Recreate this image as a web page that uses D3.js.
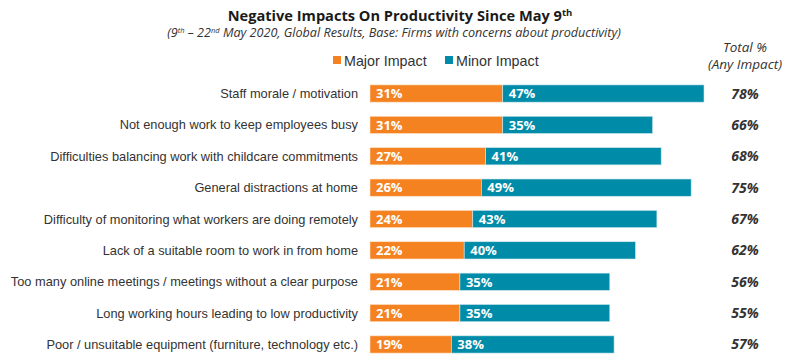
<!DOCTYPE html>
<html>
<head>
<meta charset="utf-8">
<script src="https://cdn.jsdelivr.net/npm/d3@7"></script>
<style>
  body { margin: 0; background: #fff; }
</style>
</head>
<body>
<script>
const categories = [
  "Staff morale / motivation",
  "Not enough work to keep employees busy",
  "Difficulties balancing work with childcare commitments",
  "General distractions at home",
  "Difficulty of monitoring what workers are doing remotely",
  "Lack of a suitable room to work in from home",
  "Too many online meetings / meetings without a clear purpose",
  "Long working hours leading to low productivity",
  "Poor / unsuitable equipment (furniture, technology etc.)"
];
const majorImpact = [31, 31, 27, 26, 24, 22, 21, 21, 19];
const minorImpact = [47, 35, 41, 49, 43, 40, 35, 35, 38];
const totalAny = [78, 66, 68, 75, 67, 62, 56, 55, 57];
const seriesNames = ["Major Impact", "Minor Impact"];

const width = 800, height = 362;
const colors = { major: "#F58220", minor: "#008CA8" };

const svg = d3.select("body").append("svg")
  .attr("width", width)
  .attr("height", height);

// title
const title = svg.append("text")
  .attr("x", 400).attr("y", 21)
  .attr("text-anchor", "middle")
  .style("font-family", "'Open Sans'")
  .style("font-weight", "bold")
  .style("font-size", "14.6px")
  .attr("fill", "#1a1a1a");
title.append("tspan").text("Negative Impacts On Productivity Since May 9");
title.append("tspan").text("th").attr("font-size", "9.5px").attr("dy", -5);

const sub = svg.append("text")
  .attr("x", 394).attr("y", 37)
  .attr("text-anchor", "middle")
  .style("font-family", "'Open Sans'")
  .style("font-style", "italic")
  .style("font-size", "12.6px")
  .attr("fill", "#333");
sub.append("tspan").text("(9");
sub.append("tspan").text("th").attr("font-size", "7.5px").attr("dy", -4);
sub.append("tspan").text(" – 22").attr("dy", 4);
sub.append("tspan").text("nd").attr("font-size", "7.5px").attr("dy", -4);
sub.append("tspan").text(" May 2020, Global Results, Base: Firms with concerns about productivity)").attr("dy", 4);

// legend
const legend = svg.append("g").selectAll("g")
  .data(seriesNames)
  .enter().append("g")
  .attr("transform", (d, i) => `translate(${[333, 445][i]},0)`);
legend.append("rect")
  .attr("y", 56).attr("width", 8).attr("height", 8)
  .attr("fill", (d, i) => i ? colors.minor : colors.major);
legend.append("text")
  .attr("x", 11).attr("y", 65.5)
  .style("font-family", "'Liberation Sans', Arial")
  .style("font-size", "14.3px")
  .attr("fill", "#333")
  .text(d => d);

// total header
svg.append("text")
  .attr("x", 745).attr("y", 52)
  .attr("text-anchor", "middle")
  .style("font-family", "'Open Sans'").style("font-style", "italic").style("font-size", "13.5px")
  .attr("fill", "#333").text("Total %");
svg.append("text")
  .attr("x", 745).attr("y", 69)
  .attr("text-anchor", "middle")
  .style("font-family", "'Open Sans'").style("font-style", "italic").style("font-size", "13.5px")
  .attr("fill", "#333").text("(Any Impact)");

const x = d3.scaleLinear().domain([0, 78]).range([370, 704]);
const y = d3.scaleBand().domain(categories).range([78, 360]).paddingInner(0.45).paddingOuter(0.22);

const rows = svg.append("g").selectAll("g")
  .data(categories.map((c, i) => ({ c, maj: majorImpact[i], min: minorImpact[i], tot: totalAny[i] })))
  .enter().append("g");

rows.append("text")
  .attr("x", 358)
  .attr("y", d => y(d.c) + y.bandwidth() / 2 + 4.5)
  .attr("text-anchor", "end")
  .style("font-family", "'Liberation Sans', Arial")
  .style("font-size", "12.8px")
  .attr("fill", "#333")
  .text(d => d.c);

rows.append("rect")
  .attr("x", x(0))
  .attr("y", d => y(d.c))
  .attr("width", d => x(d.maj) - x(0))
  .attr("height", y.bandwidth())
  .attr("fill", colors.major)
  .attr("stroke", "#fde3cc").attr("stroke-width", 0.6);

rows.append("rect")
  .attr("x", d => x(d.maj))
  .attr("y", d => y(d.c))
  .attr("width", d => x(d.maj + d.min) - x(d.maj))
  .attr("height", y.bandwidth())
  .attr("fill", colors.minor)
  .attr("stroke", "#cfe8ee").attr("stroke-width", 0.6);

const barLabel = (sel, xf, tf) => sel.append("text")
  .attr("x", xf)
  .attr("y", d => y(d.c) + y.bandwidth() / 2 + 4.8)
  .style("font-family", "'Open Sans'")
  .style("font-weight", "bold")
  .style("font-size", "13px")
  .attr("fill", "#fff")
  .text(tf);

barLabel(rows, x(0) + 6, d => d.maj + "%");
barLabel(rows, d => x(d.maj) + 6, d => d.min + "%");

rows.append("text")
  .attr("x", 745)
  .attr("y", d => y(d.c) + y.bandwidth() / 2 + 5)
  .attr("text-anchor", "middle")
  .style("font-family", "'Open Sans'")
  .style("font-weight", "bold")
  .style("font-style", "italic")
  .style("font-size", "14px")
  .attr("fill", "#333")
  .text(d => d.tot + "%");
</script>
</body>
</html>
